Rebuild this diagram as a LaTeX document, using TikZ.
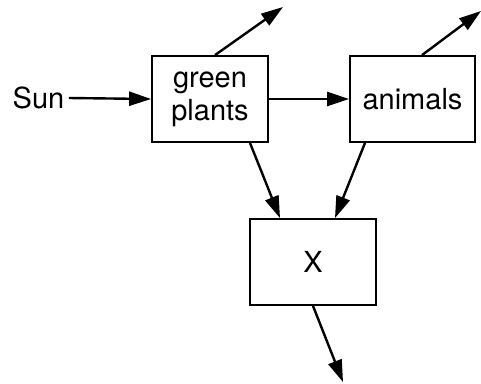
\documentclass[tikz,border=0pt]{standalone}
\usepackage{fontspec}
\setmainfont{TeX Gyre Heros}
\usetikzlibrary{arrows.meta}
\begin{document}
\begin{tikzpicture}[
          x=1pt, y=-1pt,
          every node/.style={font=\fontsize{29}{33}\selectfont},
          box/.style={draw, line width=1.8pt, inner sep=0pt, align=center},
          flow/.style={line width=2.4pt, -{Triangle[length=22pt,width=14pt]}}
        ]
        \useasboundingbox (0,0) rectangle (481,383);
        \node (sun) at (38.5,98) {Sun};
        \node[box, minimum width=116pt, minimum height=86pt] (plants) at (210,99) {green\\plants};
        \node[box, minimum width=125pt, minimum height=86pt] (animals) at (412.5,99) {animals};
        \node[box, minimum width=126pt, minimum height=86pt] (x) at (313,262) {X};
        % free ends
        \coordinate (plantsout) at (283,7);
        \coordinate (animalsout) at (481,11);
        \coordinate (xout) at (343,382);
        \draw[flow] ([xshift=1pt]sun.east) -- (plants.west);
        \draw[flow] (plants.east) -- (animals.west);
        \draw[flow] ([xshift=5pt]plants.north) -- (plantsout);
        \draw[flow] ([xshift=9.5pt]animals.north) -- (animalsout);
        \draw[flow] ([xshift=40pt]plants.south) -- ([xshift=-33pt]x.north);
        \draw[flow] ([xshift=-47.5pt]animals.south) -- ([xshift=22pt]x.north);
        \draw[flow] (x.south) -- (xout);
\end{tikzpicture}
\end{document}
